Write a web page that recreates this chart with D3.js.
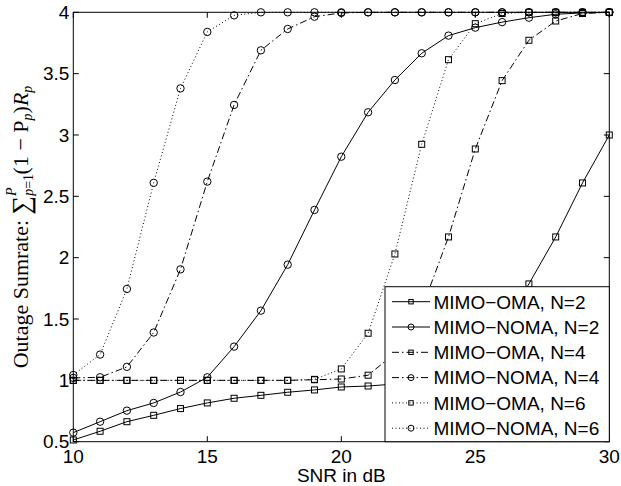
<!DOCTYPE html>
<html>
<head>
<meta charset="utf-8">
<script src="https://cdn.jsdelivr.net/npm/d3@7"></script>
<style>
  body { margin: 0; background: #fff; }
  text { fill: #000; }
</style>
</head>
<body>
<div id="chart"></div>
<script>
const width = 621, height = 486;
const margins = { top: 12.3, right: 11.7, bottom: 44.3, left: 73.3 };

// data
const snr = [10, 11, 12, 13, 14, 15, 16, 17, 18, 19, 20, 21, 22, 23, 24, 25, 26, 27, 28, 29, 30];
const omaN2 = [0.514, 0.585, 0.663, 0.715, 0.77, 0.816, 0.854, 0.878, 0.903, 0.922, 0.946, 0.954, 0.97, 0.99, 1.05, 1.2, 1.45, 1.786, 2.169, 2.609, 3.0];
const nomaN2 = [0.574, 0.663, 0.753, 0.816, 0.905, 1.025, 1.275, 1.568, 1.943, 2.389, 2.823, 3.185, 3.448, 3.666, 3.81, 3.875, 3.92, 3.956, 3.984, 3.995, 4.0];
const omaN4 = [1, 1, 1, 1, 1, 1, 1, 1, 1, 1.005, 1.011, 1.042, 1.22, 1.58, 2.169, 2.886, 3.443, 3.772, 3.929, 3.99, 4.0];
const nomaN4 = [1.02, 1.025, 1.11, 1.39, 1.905, 2.62, 3.245, 3.69, 3.864, 3.964, 3.995, 4, 4, 4, 4, 4, 4, 4, 4, 4, 4];
const omaN6 = [1, 1, 1, 1, 1, 1, 1, 1, 1, 1.008, 1.093, 1.384, 2.03, 2.924, 3.614, 3.907, 3.99, 4, 4, 4, 4];
const nomaN6 = [1.044, 1.21, 1.745, 2.61, 3.38, 3.84, 3.975, 4, 4, 4, 4, 4, 4, 4, 4, 4, 4, 4, 4, 4, 4];

const seriesNames = ["MIMO\u2212OMA, N=2", "MIMO\u2212NOMA, N=2", "MIMO\u2212OMA, N=4", "MIMO\u2212NOMA, N=4", "MIMO\u2212OMA, N=6", "MIMO\u2212NOMA, N=6"];
const xTicks = [10, 15, 20, 25, 30];
const yTicks = [0.5, 1, 1.5, 2, 2.5, 3, 3.5, 4];

const seriesValues = [omaN2, nomaN2, omaN4, nomaN4, omaN6, nomaN6];
const markers = ["square", "circle", "square", "circle", "square", "circle"];
const dashes = [null, null, "7,3,1.5,3", "7,3,1.5,3", "1,2.5", "1,2.5"];

const svg = d3.select("#chart")
    .append("svg")
    .attr("width", width)
    .attr("height", height);

const x = d3.scaleLinear().domain([10, 30]).range([margins.left, width - margins.right]);
const y = d3.scaleLinear().domain([0.5, 4]).range([height - margins.bottom, margins.top]);

const line = d3.line()
    .x(d => x(d[0]))
    .y(d => y(d[1]));

function drawMarker(g, type, cx, cy, s) {
    if (type === "circle") {
        g.append("circle").attr("cx", cx).attr("cy", cy).attr("r", s)
            .attr("fill", "none").attr("stroke", "#000").attr("stroke-width", 1);
    } else {
        g.append("rect").attr("x", cx - s).attr("y", cy - s).attr("width", 2 * s).attr("height", 2 * s)
            .attr("fill", "none").attr("stroke", "#000").attr("stroke-width", 1);
    }
}

const plot = svg.append("g");

seriesValues.forEach((vals, i) => {
    const pts = snr.map((s, j) => [s, vals[j]]);
    plot.append("path")
        .attr("d", line(pts))
        .attr("fill", "none")
        .attr("stroke", "#000")
        .attr("stroke-width", 1)
        .attr("stroke-dasharray", dashes[i]);
    const mg = plot.append("g");
    pts.forEach(p => drawMarker(mg, markers[i], x(p[0]), y(p[1]), markers[i] === "circle" ? 3.7 : 3));
});

// axes box with inward ticks (all four sides)
const axes = svg.append("g").attr("font-family", "'Liberation Sans', Arial, sans-serif").attr("font-size", 19);
const x0 = x.range()[0], x1 = x.range()[1], y0 = y.range()[0], y1 = y.range()[1];
const tl = 5.5;

xTicks.forEach(t => {
    axes.append("line").attr("x1", x(t)).attr("x2", x(t)).attr("y1", y0).attr("y2", y0 - tl).attr("stroke", "#000");
    axes.append("line").attr("x1", x(t)).attr("x2", x(t)).attr("y1", y1).attr("y2", y1 + tl).attr("stroke", "#000");
    axes.append("text").attr("x", x(t)).attr("y", y0 + 21.3).attr("text-anchor", "middle").text(t);
});
yTicks.forEach(t => {
    axes.append("line").attr("x1", x0).attr("x2", x0 + tl).attr("y1", y(t)).attr("y2", y(t)).attr("stroke", "#000");
    axes.append("line").attr("x1", x1).attr("x2", x1 - tl).attr("y1", y(t)).attr("y2", y(t)).attr("stroke", "#000");
    axes.append("text").attr("x", x0 - 4).attr("y", y(t)).attr("dy", "0.35em").attr("text-anchor", "end").text(t);
});
axes.append("rect").attr("x", x0).attr("y", y1).attr("width", x1 - x0).attr("height", y0 - y1)
    .attr("fill", "none").attr("stroke", "#000").attr("stroke-width", 1);

axes.append("text")
    .attr("x", (x0 + x1) / 2)
    .attr("y", 482)
    .attr("text-anchor", "middle")
    .text("SNR in dB");

// y label with the sum formula
const yl = svg.append("text")
    .attr("transform", `translate(28,${(y0 + y1) / 2}) rotate(-90)`)
    .attr("text-anchor", "middle")
    .attr("font-family", "'Liberation Serif', 'Times New Roman', serif")
    .attr("font-size", 22);
yl.append("tspan").text("Outage Sumrate: ");
yl.append("tspan").attr("font-size", 26).attr("dy", 2).text("\u2211");
yl.append("tspan").attr("font-size", 14).attr("font-style", "italic").attr("dy", 3).text("p");
yl.append("tspan").attr("font-size", 14).text("=1");
yl.append("tspan").attr("font-size", 14).attr("font-style", "italic").attr("dx", -22).attr("dy", -17).text("P");
yl.append("tspan").attr("dx", 13).attr("dy", 12).text("(1 \u2212 P");
yl.append("tspan").attr("font-size", 14).attr("font-style", "italic").attr("dy", 4).text("p");
yl.append("tspan").attr("dy", -4).text(")");
yl.append("tspan").attr("font-style", "italic").text("R");
yl.append("tspan").attr("font-size", 14).attr("font-style", "italic").attr("dy", 4).text("p");

// legend
const lg = svg.append("g").attr("font-family", "'Liberation Sans', Arial, sans-serif").attr("font-size", 19);
lg.append("rect").attr("x", 385).attr("y", 286.7).attr("width", x1 - 385).attr("height", y0 - 286.7)
    .attr("fill", "#fff").attr("stroke", "#000").attr("stroke-width", 1);
seriesNames.forEach((name, i) => {
    const ry = 301.7 + i * 25.3;
    lg.append("line").attr("x1", 392).attr("x2", 430).attr("y1", ry).attr("y2", ry)
        .attr("stroke", "#000").attr("stroke-dasharray", dashes[i]);
    drawMarker(lg, markers[i], 411, ry, markers[i] === "circle" ? 3 : 2.2);
    lg.append("text").attr("x", 433.5).attr("y", ry).attr("dy", "0.36em").text(name);
});
</script>
</body>
</html>
